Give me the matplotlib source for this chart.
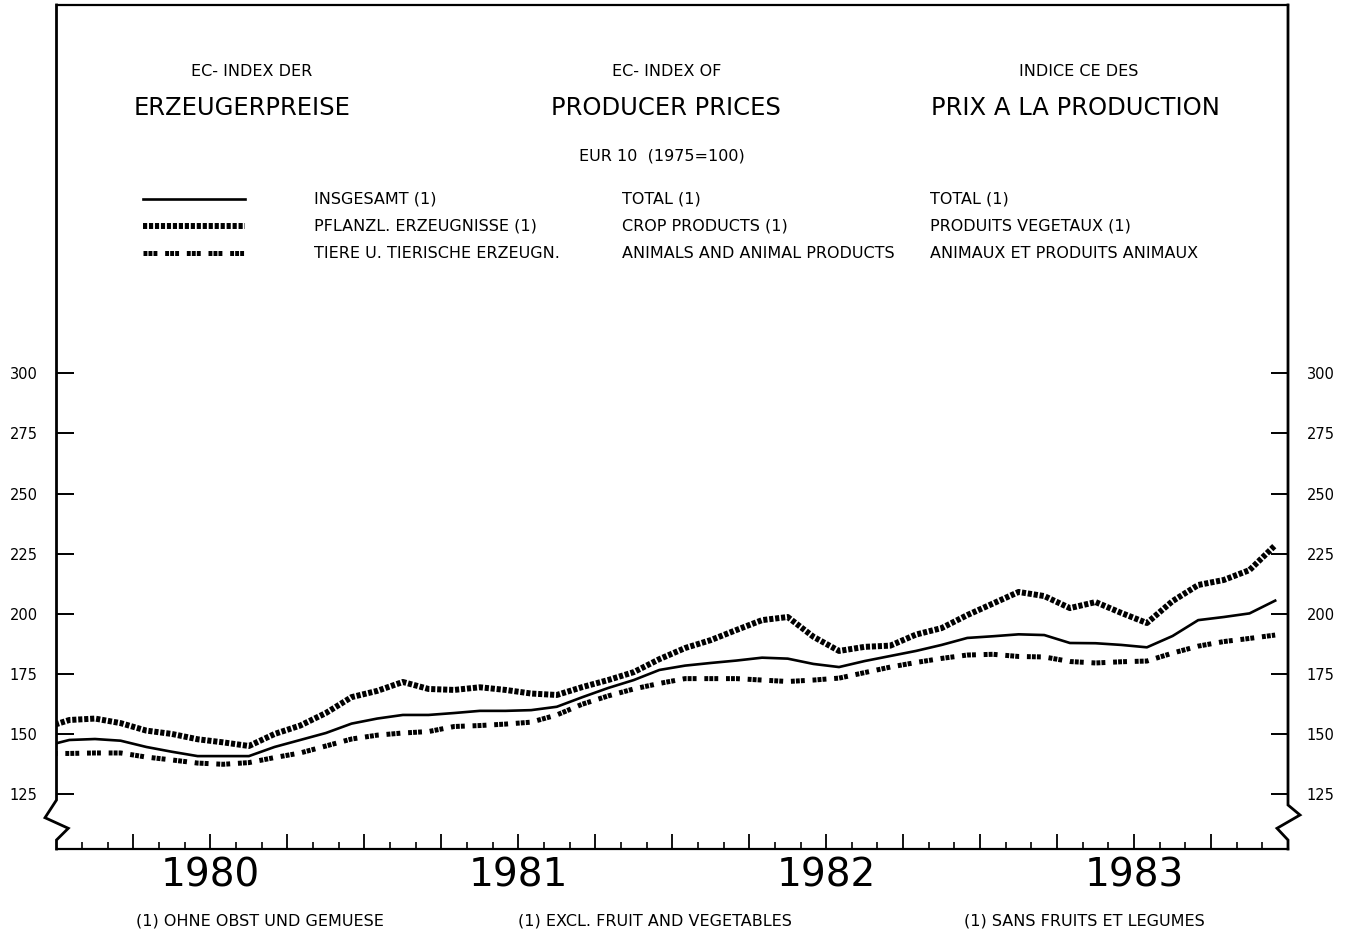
import matplotlib
matplotlib.use("Agg")
import matplotlib.pyplot as plt
from matplotlib.lines import Line2D

plt.rcParams['font.family'] = ['DejaVu Sans']
plt.rcParams['lines.scale_dashes'] = False

# ---------------- data (monthly index, EUR 10, 1975=100) ----------------
# first value = December 1979 (runs into the left edge), then Jan 1980 ... Dec 1983
months = list(range(-1, 48))
total = [144.9,
         147.6, 148.0, 147.3, 144.7, 142.7, 140.9, 140.9, 140.9, 144.7, 147.6, 150.5, 154.4,
         156.5, 158.0, 158.0, 158.8, 159.7, 159.7, 160.0, 161.4, 165.4, 169.2, 172.5, 176.7,
         178.5, 179.6, 180.6, 181.8, 181.4, 179.2, 177.9, 180.4, 182.5, 184.6, 187.1, 190.0,
         190.7, 191.5, 191.2, 187.9, 187.8, 187.1, 186.1, 190.8, 197.4, 198.7, 200.2, 205.5]
crop = [152.5,
        155.9, 156.5, 154.6, 151.5, 150.1, 147.9, 146.6, 145.1, 150.1, 153.6, 158.8, 165.4,
        168.0, 171.7, 168.8, 168.4, 169.5, 168.4, 166.9, 166.3, 169.6, 172.5, 175.8, 181.2,
        185.8, 189.1, 193.3, 197.4, 198.7, 190.5, 184.6, 186.3, 186.8, 191.4, 194.1, 199.5,
        204.3, 209.1, 207.4, 202.4, 204.9, 200.4, 196.2, 205.3, 212.0, 214.1, 218.2, 228.5]
animal = [142.0,
          142.0, 142.2, 142.2, 140.5, 139.3, 138.0, 137.5, 138.2, 140.3, 142.2, 145.1, 148.0,
          149.6, 150.5, 151.1, 153.2, 153.6, 154.2, 155.0, 158.0, 162.5, 165.9, 168.8, 171.1,
          173.1, 173.1, 173.1, 172.5, 171.9, 172.5, 173.3, 175.6, 177.9, 179.8, 181.5, 182.9,
          183.2, 182.3, 182.1, 180.2, 179.6, 180.1, 180.4, 183.7, 186.6, 188.5, 189.8, 191.2]
years = [1980, 1981, 1982, 1983]
yticks = [125, 150, 175, 200, 225, 250, 275, 300]

leg_de = ["INSGESAMT (1)", "PFLANZL. ERZEUGNISSE (1)", "TIERE U. TIERISCHE ERZEUGN."]
leg_en = ["TOTAL (1)", "CROP PRODUCTS (1)", "ANIMALS AND ANIMAL PRODUCTS"]
leg_fr = ["TOTAL (1)", "PRODUITS VEGETAUX (1)", "ANIMAUX ET PRODUITS ANIMAUX"]

# ---------------- figure ----------------
W, H = 1349, 932
fig = plt.figure(figsize=(W / 100, H / 100), dpi=100)
fig.patch.set_facecolor('white')

L, R, T, B = 56.5, 1288.0, 5.0, 849.0
ax = fig.add_axes([L / W, 1 - B / H, (R - L) / W, (B - T) / H])
ax.set_xlim(0, 48)
ax.set_ylim(102.3, 453.0)

xs = [m + 0.5 for m in months]
solid_style = dict(color='black', lw=1.9, solid_joinstyle='round')
crop_style = dict(color='black', lw=4.3, dashes=[3.0, 1.3], dash_capstyle='butt')
anim_style = dict(color='black', lw=3.6, dashes=[2.8, 0.8, 2.8, 0.8, 2.8, 5.6], dash_capstyle='butt')
ax.plot(xs, total, **solid_style)
ax.plot(xs, crop, **crop_style)
ax.plot(xs, animal, **anim_style)

# spines: keep top/bottom, draw left/right with break marks
for s in ['left', 'right']:
    ax.spines[s].set_visible(False)
for s in ['top', 'bottom']:
    ax.spines[s].set_linewidth(1.6)

def af(px, py):
    return (px - L) / (R - L), (B - py) / (B - T)

left_pts = [(L, T), (L, 800), (45, 817.7), (68.3, 828.3), (L, 840), (L, B)]
right_pts = [(R, T), (R, 805), (1300, 815), (1277, 828.3), (R, 840), (R, B)]
for pts in (left_pts, right_pts):
    p = [af(*q) for q in pts]
    ax.add_line(Line2D([a for a, b in p], [b for a, b in p], transform=ax.transAxes,
                       color='black', lw=2.0, clip_on=False, solid_joinstyle='miter'))

# y ticks both sides
ax.set_yticks(yticks)
ax.set_yticklabels([str(v) for v in yticks])
ax.tick_params(axis='y', which='major', direction='in', length=12.2, width=1.4,
               left=True, right=True, labelleft=True, labelright=True,
               labelsize=10.5, pad=13.5)

# x ticks: quarters (major), months (minor), year boundaries thicker
ax.set_xticks(list(range(3, 48, 3)))
ax.set_xticks(list(range(1, 48)), minor=True)
ax.tick_params(axis='x', which='major', direction='in', length=10.5, width=1.3,
               labelbottom=False, top=False)
ax.tick_params(axis='x', which='minor', direction='in', length=5.0, width=1.2, top=False)
for t in ax.xaxis.get_major_ticks():
    if t.get_loc() in (12, 24, 36):
        t.tick1line.set_markeredgewidth(3.0)
        t.tick1line.set_markersize(11.5)

for i, yr in enumerate(years):
    ax.annotate(str(yr), xy=(12 * i + 6, 0), xycoords=('data', 'axes fraction'),
                xytext=(0, -19), textcoords='offset points', ha='center', va='center',
                fontsize=28)

# ---------------- header texts ----------------
def ft(px, py, s, size, ha='center', **kw):
    fig.text(px / W, 1 - py / H, s, fontsize=size, ha=ha, va='center', **kw)

ft(252, 71, "EC- INDEX DER", 11.5)
ft(667, 71, "EC- INDEX OF", 11.5)
ft(1079, 71, "INDICE CE DES", 11.5)
ft(242, 108, "ERZEUGERPREISE", 17.5)
ft(666, 108, "PRODUCER PRICES", 17.5)
ft(1075, 108, "PRIX A LA PRODUCTION", 17.5)
ft(662, 156, "EUR 10  (1975=100)", 11.5)

rows_y = [199, 226, 253]
styles = [solid_style, crop_style, anim_style]
for y, st, de, en, fr in zip(rows_y, styles, leg_de, leg_en, leg_fr):
    fig.add_artist(Line2D([143 / W, 245 / W], [1 - y / H, 1 - y / H], transform=fig.transFigure, **st))
    ft(314, y, de, 11.5, ha='left')
    ft(622, y, en, 11.5, ha='left')
    ft(930, y, fr, 11.5, ha='left')

# ---------------- footnotes ----------------
ft(260, 921, "(1) OHNE OBST UND GEMUESE", 11.5)
ft(655, 921, "(1) EXCL. FRUIT AND VEGETABLES", 11.5)
ft(1084, 921, "(1) SANS FRUITS ET LEGUMES", 11.5)

fig.savefig("out.png", dpi=100, facecolor='white')
